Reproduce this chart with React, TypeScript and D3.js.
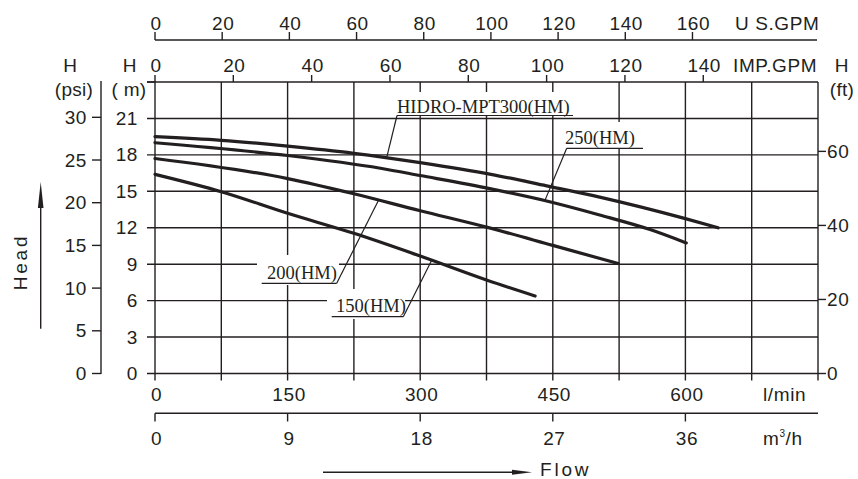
import React from 'react';
import * as d3 from 'd3';

// Axis tick values
const flowLminTicks = [0, 150, 300, 450, 600];
const flowM3hTicks = [0, 9, 18, 27, 36];
const headMTicks = [0, 3, 6, 9, 12, 15, 18, 21];
const headPsiTicks = [0, 5, 10, 15, 20, 25, 30];
const headFtTicks = [0, 20, 40, 60];
const usGpmTicks = [0, 20, 40, 60, 80, 100, 120, 140, 160];
const impGpmTicks = [0, 20, 40, 60, 80, 100, 120, 140];

// Unit conversions (as drawn on the chart)
const PSI_TO_M = 0.7031;
const FT_TO_M = 0.3048;
const USGPM_TO_LMIN = 3.8;
const IMPGPM_TO_LMIN = 4.43;
const M3H_TO_LMIN = 1000 / 60;

// Pump curves: flow (l/min) and head (m)
const hidroFlow = [0, 75, 150, 225, 300, 380, 443, 503, 600, 637];
const hidroHead = [19.5, 19.2, 18.72, 18.13, 17.36, 16.4, 15.45, 14.52, 12.75, 12.0];
const hm250Flow = [0, 150, 255, 300, 380, 443, 503, 560, 601];
const hm250Head = [19.0, 17.95, 16.9, 16.3, 15.2, 14.2, 13.05, 11.85, 10.75];
const hm200Flow = [0, 150, 225, 300, 375, 450, 524];
const hm200Head = [17.7, 16.05, 14.8, 13.4, 12.05, 10.55, 9.05];
const hm150Flow = [0, 75, 150, 225, 300, 375, 430];
const hm150Head = [16.4, 14.97, 13.19, 11.54, 9.67, 7.7, 6.38];

const seriesNames = ['HIDRO-MPT300(HM)', '250(HM)', '200(HM)', '150(HM)'];

const W = 858;
const H = 479;
const x = d3.scaleLinear().domain([0, 750]).range([155, 818]);
const y = d3.scaleLinear().domain([0, 24]).range([373.5, 82]);

const INK = '#231f20';
const sans = '"Liberation Sans", Arial, sans-serif';
const serif = '"Liberation Serif", "Times New Roman", serif';
const FS = 19;
const LS = 0.6;

export default function App() {
  const line = d3
    .line<[number, number]>()
    .x((d) => x(d[0]))
    .y((d) => y(d[1]))
    .curve(d3.curveMonotoneX);

  const curves = [
    { q: hidroFlow, h: hidroHead },
    { q: hm250Flow, h: hm250Head },
    { q: hm200Flow, h: hm200Head },
    { q: hm150Flow, h: hm150Head },
  ];

  const headAt = (c: { q: number[]; h: number[] }, q: number) =>
    d3.scaleLinear().domain(c.q).range(c.h)(q);

  const labels = [
    { name: seriesNames[0], tx: 397, ty: 113, box: [394, 92, 182, 23], ul: [397, 573, 115.5], lead: 'left', q: 262, c: curves[0] },
    { name: seriesNames[1], tx: 565, ty: 144, box: [560, 122, 86, 26], ul: [566.7, 643, 148.3], lead: 'left', q: 441, c: curves[1] },
    { name: seriesNames[2], tx: 267, ty: 279, box: [257, 255, 82, 30], ul: [261.7, 336.7, 283.3], lead: 'right', q: 253, c: curves[2] },
    { name: seriesNames[3], tx: 336, ty: 312, box: [327, 289, 78, 30], ul: [331.7, 403.3, 316.7], lead: 'right', q: 313, c: curves[3] },
  ];

  const vGrid = d3.range(0, 751, 75);
  const hGrid = d3.range(0, 25, 3);

  const textStyle = { fontFamily: sans, fontSize: FS, letterSpacing: LS, fill: INK } as const;

  return (
    <svg width={W} height={H} style={{ position: 'absolute', left: 0, top: 0, background: '#fff' }}>
      <rect x={0} y={0} width={W} height={H} fill="#fff" />
      {/* grid */}
      <g stroke={INK} strokeWidth={1.4}>
        {vGrid.map((v) => (
          <line key={'v' + v} x1={x(v)} x2={x(v)} y1={y(24)} y2={y(0) + 7} />
        ))}
        {hGrid.map((v) => (
          <line key={'h' + v} x1={147} x2={x(750)} y1={y(v)} y2={y(v)} />
        ))}
      </g>

      {/* curves */}
      <g fill="none" stroke={INK} strokeWidth={3.2} strokeLinecap="round">
        {curves.map((c, i) => (
          <path key={i} d={line(c.q.map((q, j) => [q, c.h[j]] as [number, number])) || ''} />
        ))}
      </g>

      {/* curve labels */}
      {labels.map((l, i) => {
        const px = x(l.q);
        const py = y(headAt(l.c, l.q));
        const sx = l.lead === 'left' ? l.ul[0] : l.ul[1];
        return (
          <g key={'lab' + i}>
            <rect x={l.box[0]} y={l.box[1]} width={l.box[2]} height={l.box[3]} fill="#fff" />
            <text x={l.tx} y={l.ty} fontFamily={serif} fontSize={18.5} fill={INK}>
              {l.name}
            </text>
            <line x1={l.ul[0]} x2={l.ul[1]} y1={l.ul[2]} y2={l.ul[2]} stroke={INK} strokeWidth={1.2} />
            <line x1={sx} y1={l.ul[2]} x2={px} y2={py} stroke={INK} strokeWidth={1.2} />
          </g>
        );
      })}

      {/* left m axis labels */}
      {headMTicks.map((v) => (
        <text key={'m' + v} x={138} y={y(v) + 6.5} textAnchor="end" {...textStyle}>
          {v}
        </text>
      ))}
      <line x1={147} x2={155} y1={y(24)} y2={y(24)} stroke={INK} strokeWidth={1.4} />

      {/* psi axis */}
      <line x1={101} x2={101} y1={81} y2={y(0) + 0.5} stroke={INK} strokeWidth={1.4} />
      {headPsiTicks.map((v) => (
        <g key={'p' + v}>
          <line x1={92} x2={101} y1={y(v * PSI_TO_M)} y2={y(v * PSI_TO_M)} stroke={INK} strokeWidth={1.4} />
          <text x={87} y={y(v * PSI_TO_M) + 6.5} textAnchor="end" {...textStyle}>
            {v}
          </text>
        </g>
      ))}
      <text x={70.5} y={72} textAnchor="middle" {...textStyle}>H</text>
      <text x={74} y={96} textAnchor="middle" {...textStyle} letterSpacing={0.3}>(psi)</text>
      <text x={130} y={72} textAnchor="middle" {...textStyle}>H</text>
      <text x={129} y={96} textAnchor="middle" {...textStyle} letterSpacing={0.3}>( m)</text>

      {/* ft axis (right) */}
      {headFtTicks.map((v) => (
        <g key={'f' + v}>
          <line x1={818} x2={826} y1={y(v * FT_TO_M)} y2={y(v * FT_TO_M)} stroke={INK} strokeWidth={1.4} />
          <text x={827} y={y(v * FT_TO_M) + 6.5} textAnchor="start" {...textStyle}>
            {v}
          </text>
        </g>
      ))}
      <text x={842} y={72} textAnchor="middle" {...textStyle}>H</text>
      <text x={842} y={96} textAnchor="middle" {...textStyle} letterSpacing={0.3}>(ft)</text>

      {/* top IMP.GPM axis */}
      {impGpmTicks.map((v) => (
        <g key={'i' + v}>
          <line x1={x(v * IMPGPM_TO_LMIN)} x2={x(v * IMPGPM_TO_LMIN)} y1={75} y2={y(24)} stroke={INK} strokeWidth={1.4} />
          <text x={x(v * IMPGPM_TO_LMIN) + 1} y={71.5} textAnchor="middle" {...textStyle}>
            {v}
          </text>
        </g>
      ))}
      <text x={733} y={71.5} {...textStyle}>IMP.GPM</text>

      {/* top US GPM axis */}
      <line x1={x(0)} x2={817} y1={40} y2={40} stroke={INK} strokeWidth={1.4} />
      {usGpmTicks.map((v) => (
        <g key={'u' + v}>
          <line x1={x(v * USGPM_TO_LMIN)} x2={x(v * USGPM_TO_LMIN)} y1={32} y2={40} stroke={INK} strokeWidth={1.4} />
          <text x={x(v * USGPM_TO_LMIN) + 1} y={29.5} textAnchor="middle" {...textStyle}>
            {v}
          </text>
        </g>
      ))}
      <text x={735} y={29.5} {...textStyle}>U S.GPM</text>

      {/* bottom l/min labels */}
      {flowLminTicks.map((v) => (
        <text key={'l' + v} x={x(v) + 1.5} y={401} textAnchor="middle" {...textStyle}>
          {v}
        </text>
      ))}
      <text x={763} y={401} {...textStyle}>l/min</text>

      {/* m3/h axis */}
      <line x1={x(0)} x2={818} y1={413.3} y2={413.3} stroke={INK} strokeWidth={1.4} />
      {flowM3hTicks.map((v) => (
        <g key={'c' + v}>
          <line x1={x(v * M3H_TO_LMIN)} x2={x(v * M3H_TO_LMIN)} y1={413.3} y2={421.5} stroke={INK} strokeWidth={1.4} />
          <text x={x(v * M3H_TO_LMIN) + 1.5} y={444.5} textAnchor="middle" {...textStyle}>
            {v}
          </text>
        </g>
      ))}
      <text x={763} y={444.5} {...textStyle}>
        m<tspan dy={-8} fontSize={10}>3</tspan>
        <tspan dy={8}>/h</tspan>
      </text>

      {/* Flow arrow */}
      <line x1={323} x2={515} y1={472.3} y2={472.3} stroke={INK} strokeWidth={1.4} />
      <path d="M512,469.8 L532,472.3 L512,474.8 Z" fill={INK} />
      <text x={540} y={475.5} {...textStyle} letterSpacing={2.8}>Flow</text>

      {/* Head arrow */}
      <line x1={40.7} x2={40.7} y1={328.7} y2={205} stroke={INK} strokeWidth={1.4} />
      <path d="M37.9,208 L40.7,182 L43.5,208 Z" fill={INK} />
      <text
        transform={`translate(26.5,262) rotate(-90)`}
        textAnchor="middle"
        {...textStyle}
        letterSpacing={2.8}
      >
        Head
      </text>
    </svg>
  );
}
